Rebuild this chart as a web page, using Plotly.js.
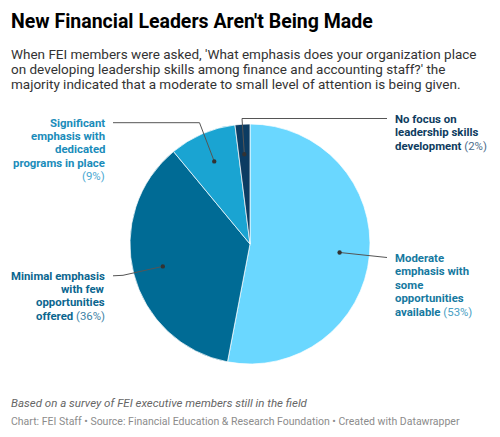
<!DOCTYPE html>
<html><head><meta charset="utf-8">
<script src="https://cdn.plot.ly/plotly-3.0.1.min.js"></script>
<style>html,body{margin:0;padding:0;background:#fff}#chart{width:500px;height:437px}</style>
</head><body><div id="chart"></div>
<script>
// ---- data ----
const categories = [
  "Moderate emphasis with some opportunities available",
  "Minimal emphasis with few opportunities offered",
  "Significant emphasis with dedicated programs in place",
  "No focus on leadership skills development"
];
const values = [53, 36, 9, 2];
const sliceColors = ["#6ad7ff", "#006b95", "#1aa4d2", "#0c3c62"];
const labelColors = ["#16799f", "#0b668f", "#1a8cba", "#0e3c60"];
const pctColors = ["#4aa0c4", "#3d83a6", "#4aa8d2", "#4d6d8c"];
// label lines; {p} marks where the percentage goes
const labelLines = [
  ["Moderate", "emphasis with", "some", "opportunities", "available {p}"],
  ["Minimal emphasis", "with few", "opportunities", "offered {p}"],
  ["Significant", "emphasis with", "dedicated", "programs in place", "{p}"],
  ["No focus on", "leadership skills", "development {p}"]
];
const titleText = "New Financial Leaders Aren't Being Made";
const subtitleLines = [
  "When FEI members were asked, 'What emphasis does your organization place",
  "on developing leadership skills among finance and accounting staff?' the",
  "majority indicated that a moderate to small level of attention is being given."
];
const noteText = "Based on a survey of FEI executive members still in the field";
const creditText = "Chart: FEI Staff \u2022 Source: Financial Education & Research Foundation \u2022 Created with Datawrapper";

// ---- layout helpers (pixels -> paper) ----
const W = 500, H = 437;
const cx = 250, cy = 244, R = 120;
const px = x => x / W;
const py = y => 1 - y / H;

// label placement: [anchorSide, textX, firstLineY, elbow points (px)]
const labelPlace = [
  {side: "left",  x: 393, y: 258, path: [[387, 257.5]]},
  {side: "right", x: 107, y: 275.5, path: [[113, 275.8], [123, 275.3]]},
  {side: "right", x: 107, y: 122.7, path: [[113, 122.7], [199.5, 122.7]]},
  {side: "left",  x: 393, y: 118.7, path: [[387, 118.5], [242, 118.5]]}
];
const lineGap = 13.4;

const total = values.reduce((a, b) => a + b, 0);
let cum = 0;
const annotations = [];
const shapes = [];
values.forEach((v, i) => {
  const mid = (cum + v / 2) / total * 2 * Math.PI;
  cum += v;
  const dx = cx + 0.75 * R * Math.sin(mid);
  const dy = cy - 0.75 * R * Math.cos(mid);
  const pl = labelPlace[i];
  const pts = pl.path.slice().reverse();
  let d = `M${px(dx)},${py(dy)}`;
  pts.forEach(p => { d += ` L${px(p[0])},${py(p[1])}`; });
  shapes.push({type: "path", xref: "paper", yref: "paper", path: d,
    line: {color: "#555", width: 1}});
  shapes.push({type: "circle", xref: "paper", yref: "paper",
    x0: px(dx - 2.2), x1: px(dx + 2.2), y0: py(dy + 2.2), y1: py(dy - 2.2),
    fillcolor: "#333", line: {width: 0}});
  const pct = `<span style="color:${pctColors[i]}">(${v}%)</span>`;
  labelLines[i].forEach((ln, k) => {
    let txt;
    if (ln.includes("{p}")) {
      const pre = ln.replace("{p}", "").trim();
      txt = (pre ? `<b>${pre}</b> ` : "") + pct;
    } else txt = `<b>${ln}</b>`;
    annotations.push({xref: "paper", yref: "paper", x: px(pl.x), y: py(pl.y + k * lineGap),
      xanchor: pl.side, yanchor: "middle", align: pl.side, showarrow: false, text: txt,
      font: {family: "Roboto", size: 11.4, color: labelColors[i]}});
  });
});

annotations.push({xref: "paper", yref: "paper", x: px(9), y: py(22), xanchor: "left", yanchor: "middle",
  showarrow: false, text: `<b>${titleText}</b>`, font: {family: "Roboto", size: 19.5, color: "#000"}});
subtitleLines.forEach((s, k) => annotations.push({xref: "paper", yref: "paper", x: px(9), y: py(53.5 + k * 15),
  xanchor: "left", yanchor: "middle", showarrow: false, text: s,
  font: {family: "Roboto", size: 13.5, color: "#333"}}));
annotations.push({xref: "paper", yref: "paper", x: px(9), y: py(403), xanchor: "left", yanchor: "middle",
  showarrow: false, text: `<i>${noteText}</i>`, font: {family: "Roboto", size: 11.5, color: "#666"}});
annotations.push({xref: "paper", yref: "paper", x: px(9), y: py(421), xanchor: "left", yanchor: "middle",
  showarrow: false, text: creditText, font: {family: "Roboto", size: 10.5, color: "#8c8c8c"}});

const trace = {
  type: "pie", labels: categories, values: values, sort: false, direction: "clockwise", rotation: 0,
  marker: {colors: sliceColors, line: {color: "rgba(255,255,255,0.7)", width: 1}},
  textinfo: "none", hoverinfo: "none", showlegend: false,
  domain: {x: [px(cx - R), px(cx + R)], y: [py(cy + R), py(cy - R)]}
};
const layout = {width: W, height: H, margin: {l: 0, r: 0, t: 0, b: 0},
  paper_bgcolor: "#fff", plot_bgcolor: "#fff", showlegend: false,
  annotations: annotations, shapes: shapes, font: {family: "Roboto"}};
Plotly.newPlot("chart", [trace], layout, {staticPlot: true, displayModeBar: false});
</script></body></html>
